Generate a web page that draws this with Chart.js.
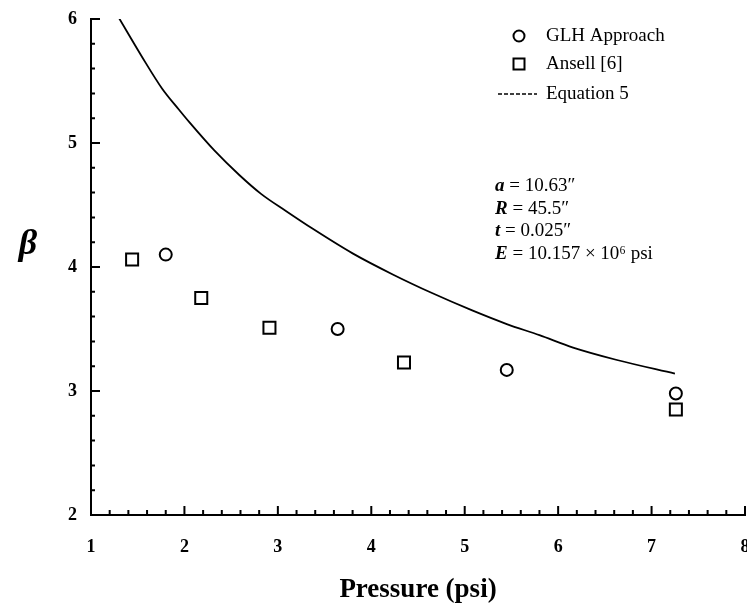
<!DOCTYPE html>
<html lang="en">
<head>
<meta charset="UTF-8">
<title>Beta vs Pressure</title>
<script src="https://cdn.jsdelivr.net/npm/chart.js"></script>
<style>
  body { margin: 0; background: #fff; }
  #box { width: 747px; height: 610px; }
</style>
</head>
<body>
<div id="box"><canvas id="grafico" width="747" height="610"></canvas></div>

<script>
// values
const glhX = [1.80, 3.64, 5.45, 7.26];
const glhY = [4.10, 3.50, 3.17, 2.98];

const ansellX = [1.44, 2.18, 2.91, 4.35, 7.26];
const ansellY = [4.06, 3.75, 3.51, 3.23, 2.85];

const eqX = [1.29, 1.55, 1.76, 1.94, 2.05, 2.32, 2.59, 2.82, 3.09, 3.37, 3.80, 4.23, 4.65, 5.08, 5.45, 5.80, 6.16, 6.63, 7.25];
const eqY = [6.02, 5.69, 5.44, 5.27, 5.17, 4.94, 4.74, 4.59, 4.45, 4.31, 4.11, 3.94, 3.79, 3.65, 3.54, 3.45, 3.35, 3.25, 3.14];

const xTicks = [1, 2, 3, 4, 5, 6, 7, 8];
const yTicks = [2, 3, 4, 5, 6];

const legendLabels = ['GLH Approach', 'Ansell [6]', 'Equation 5'];
const paramLines = [
    ['a', ' = 10.63\u2033'],
    ['R', ' = 45.5\u2033'],
    ['t', ' = 0.025\u2033'],
    ['E', ' = 10.157 \u00d7 10\u2076 psi']
];

const serif = '"Liberation Serif", "DejaVu Serif", serif';

const pontos = (xs, ys) => xs.map((x, i) => ({ x: x, y: ys[i] }));

// small inward ticks, beta symbol, legend and parameter block
const extras = {
    id: 'extras',
    afterDraw(chart) {
        const ctx = chart.ctx;
        const sx = chart.scales.x;
        const sy = chart.scales.y;
        const area = chart.chartArea;
        ctx.save();
        ctx.strokeStyle = '#000';
        ctx.lineWidth = 2;
        ctx.beginPath();
        for (let k = 0; k <= 35; k++) {
            const v = 1 + k * 0.2;
            const px = sx.getPixelForValue(v);
            const len = k % 5 === 0 ? 9 : 5;
            ctx.moveTo(px, area.bottom);
            ctx.lineTo(px, area.bottom - len);
        }
        for (let k = 0; k <= 20; k++) {
            const v = 2 + k * 0.2;
            const py = sy.getPixelForValue(v);
            const len = k % 5 === 0 ? 9 : 4;
            ctx.moveTo(area.left, py);
            ctx.lineTo(area.left + len, py);
        }
        ctx.stroke();

        // beta
        ctx.fillStyle = '#000';
        ctx.font = 'italic bold 36px ' + serif;
        ctx.textAlign = 'center';
        ctx.textBaseline = 'middle';
        ctx.fillText('\u03b2', 28, 245);

        // legend
        const lx = 519, ly = [36, 64, 94];
        ctx.lineWidth = 2;
        ctx.strokeStyle = '#000';
        ctx.fillStyle = '#fff';
        ctx.beginPath();
        ctx.arc(lx, ly[0], 5.5, 0, Math.PI * 2);
        ctx.fill();
        ctx.stroke();
        ctx.beginPath();
        ctx.rect(lx - 5.5, ly[1] - 5.5, 11, 11);
        ctx.fill();
        ctx.stroke();
        ctx.lineWidth = 1.5;
        ctx.setLineDash([4, 2]);
        ctx.beginPath();
        ctx.moveTo(498, ly[2]);
        ctx.lineTo(537, ly[2]);
        ctx.stroke();
        ctx.setLineDash([]);

        ctx.fillStyle = '#000';
        ctx.textAlign = 'left';
        ctx.font = '19px ' + serif;
        legendLabels.forEach((t, i) => ctx.fillText(t, 546, ly[i]));

        // parameters
        let py = 186;
        paramLines.forEach(p => {
            ctx.font = 'italic bold 19px ' + serif;
            ctx.fillText(p[0], 495, py);
            const w = ctx.measureText(p[0]).width;
            ctx.font = '19px ' + serif;
            ctx.fillText(p[1], 495 + w, py);
            py += 22.7;
        });
        ctx.restore();
    }
};

new Chart(document.getElementById('grafico'), {
    type: 'scatter',
    data: {
        datasets: [{
            label: legendLabels[0],
            data: pontos(glhX, glhY),
            pointStyle: 'circle',
            pointRadius: 6,
            pointBorderWidth: 2,
            pointBorderColor: '#000',
            pointBackgroundColor: '#fff'
        }, {
            label: legendLabels[1],
            data: pontos(ansellX, ansellY),
            pointStyle: 'rect',
            pointRadius: 8.5,
            pointBorderWidth: 2,
            pointBorderColor: '#000',
            pointBackgroundColor: '#fff'
        }, {
            label: legendLabels[2],
            data: pontos(eqX, eqY),
            showLine: true,
            borderColor: '#000',
            borderWidth: 1.8,
            pointRadius: 0,
            cubicInterpolationMode: 'monotone'
        }]
    },
    options: {
        responsive: false,
        animation: false,
        layout: {
            autoPadding: false,
            padding: { top: 19, right: 2, left: 0, bottom: 0 }
        },
        plugins: {
            legend: { display: false },
            tooltip: { enabled: false }
        },
        scales: {
            x: {
                type: 'linear',
                min: 1,
                max: 8,
                afterFit: s => { s.height = 95; s.paddingLeft = 0; s.paddingRight = 0; },
                afterBuildTicks: s => { s.ticks = xTicks.map(v => ({ value: v })); },
                grid: { display: false, drawTicks: false },
                border: { display: true, color: '#000', width: 2 },
                ticks: {
                    color: '#000',
                    padding: 22,
                    maxRotation: 0,
                    font: { family: serif, size: 18, weight: 'bold' }
                },
                title: {
                    display: true,
                    text: 'Pressure (psi)',
                    color: '#000',
                    padding: { top: 0, bottom: 4 },
                    font: { family: serif, size: 27, weight: 'bold' }
                }
            },
            y: {
                type: 'linear',
                min: 2,
                max: 6,
                afterFit: s => { s.width = 91; s.paddingTop = 0; s.paddingBottom = 0; },
                afterBuildTicks: s => { s.ticks = yTicks.map(v => ({ value: v })); },
                grid: { display: false, drawTicks: false },
                border: { display: true, color: '#000', width: 2 },
                ticks: {
                    color: '#000',
                    padding: 14,
                    font: { family: serif, size: 18, weight: 'bold' }
                }
            }
        }
    },
    plugins: [extras]
});
</script>
</body>
</html>
